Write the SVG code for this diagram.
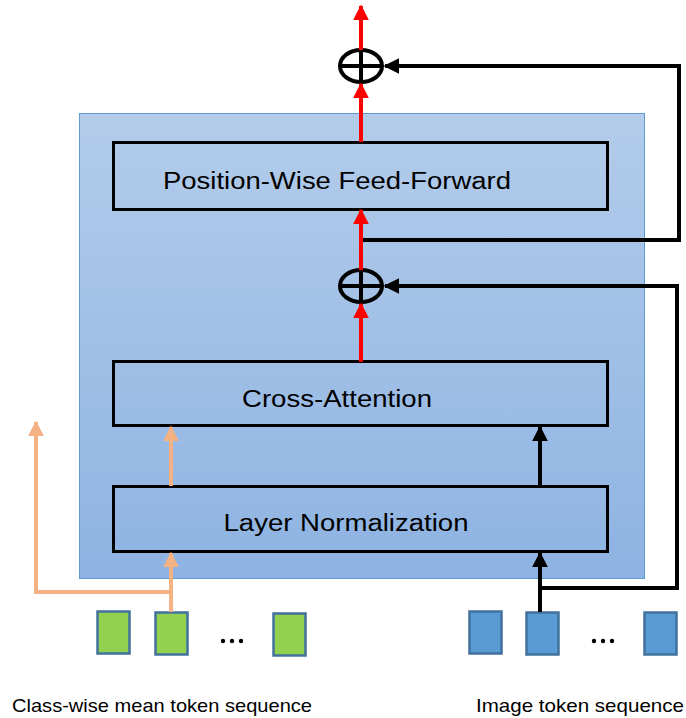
<svg xmlns="http://www.w3.org/2000/svg" width="686" height="718" viewBox="0 0 686 718">
  <defs>
    <linearGradient id="blockFill" x1="0" y1="0" x2="0" y2="1">
      <stop offset="0" stop-color="#B3CCEA"/>
      <stop offset="1" stop-color="#8EB3E2"/>
    </linearGradient>
    <marker id="headRed" viewBox="0 0 10 10" refX="9" refY="5" markerWidth="4" markerHeight="4" markerUnits="strokeWidth" orient="auto">
      <path d="M0,0 L10,5 L0,10 z" fill="#FF0000"/>
    </marker>
    <marker id="headBlack" viewBox="0 0 10 10" refX="9" refY="5" markerWidth="4" markerHeight="4" markerUnits="strokeWidth" orient="auto">
      <path d="M0,0 L10,5 L0,10 z" fill="#000000"/>
    </marker>
    <marker id="headPeach" viewBox="0 0 10 10" refX="9" refY="5" markerWidth="4" markerHeight="4" markerUnits="strokeWidth" orient="auto">
      <path d="M0,0 L10,5 L0,10 z" fill="#F4B183"/>
    </marker>
  </defs>
  <style>
    .label { font-family: "Liberation Sans", Arial, sans-serif; fill: #000; }
    .box { fill: none; stroke: #000; stroke-width: 3; }
    .red { fill: none; stroke: #FF0000; stroke-width: 4; marker-end: url(#headRed); }
    .blkArrow { fill: none; stroke: #000; stroke-width: 4; marker-end: url(#headBlack); }
    .blk { fill: none; stroke: #000; stroke-width: 4; }
    .peachArrow { fill: none; stroke: #F4B183; stroke-width: 4; marker-end: url(#headPeach); }
    .oplus { fill: none; stroke: #000; stroke-width: 4; }
    .tokG { fill: #92D050; stroke: #41719C; stroke-width: 2.5; }
    .tokB { fill: #5B9BD5; stroke: #41719C; stroke-width: 2.5; }
  </style>

  <!-- decoder block background -->
  <rect id="block" x="79.5" y="113.5" width="565" height="465" fill="url(#blockFill)" stroke="#5B9BD5" stroke-width="1"/>

  <g id="ffn">
    <rect class="box" x="113.5" y="142.5" width="494" height="67"/>
    <text class="label" x="337" y="189" font-size="23" text-anchor="middle" textLength="348" lengthAdjust="spacingAndGlyphs">Position-Wise Feed-Forward</text>
  </g>
  <g id="cross-attention">
    <rect class="box" x="113.5" y="361.5" width="494" height="64"/>
    <text class="label" x="337" y="407" font-size="23" text-anchor="middle" textLength="190" lengthAdjust="spacingAndGlyphs">Cross-Attention</text>
  </g>
  <g id="layer-norm">
    <rect class="box" x="113.5" y="486.5" width="494" height="65"/>
    <text class="label" x="346" y="531" font-size="23" text-anchor="middle" textLength="245" lengthAdjust="spacingAndGlyphs">Layer Normalization</text>
  </g>

  <g id="add-top">
    <ellipse class="oplus" cx="361" cy="66" rx="21" ry="16"/>
    <line class="oplus" x1="340" y1="66" x2="382" y2="66"/>
    <line class="oplus" x1="361" y1="50" x2="361" y2="82"/>
  </g>
  <g id="add-mid">
    <ellipse class="oplus" cx="361" cy="286" rx="21" ry="16"/>
    <line class="oplus" x1="340" y1="286" x2="382" y2="286"/>
    <line class="oplus" x1="361" y1="270" x2="361" y2="302"/>
  </g>

  <g id="tokens-class">
    <rect class="tokG" x="97.5" y="611.5" width="32" height="42"/>
    <rect class="tokG" x="155.5" y="612.5" width="32" height="42"/>
    <rect class="tokG" x="273.5" y="613.5" width="32" height="42"/>
    <circle cx="223" cy="641" r="2.2"/>
    <circle cx="232" cy="641" r="2.2"/>
    <circle cx="241" cy="641" r="2.2"/>
  </g>
  <g id="tokens-image">
    <rect class="tokB" x="469.5" y="611.5" width="32" height="42"/>
    <rect class="tokB" x="526.5" y="612.5" width="32" height="42"/>
    <rect class="tokB" x="644.5" y="612.5" width="32" height="42"/>
    <circle cx="594" cy="641" r="2.2"/>
    <circle cx="603" cy="641" r="2.2"/>
    <circle cx="612" cy="641" r="2.2"/>
  </g>

  <g id="connectors">
    <!-- main red path -->
    <line class="red" x1="361" y1="50" x2="361" y2="6"/>
    <line class="red" x1="361" y1="142" x2="361" y2="84"/>
    <line class="red" x1="361" y1="270" x2="361" y2="210"/>
    <line class="red" x1="361" y1="362" x2="361" y2="304"/>
    <!-- residual connections -->
    <polyline class="blkArrow" points="363,240 679,240 679,66 385,66"/>
    <polyline class="blkArrow" points="540,612 540,588 677,588 677,286 385,286"/>
    <!-- image tokens into the block -->
    <line class="blkArrow" x1="540" y1="590" x2="540" y2="553"/>
    <line class="blkArrow" x1="540" y1="486" x2="540" y2="427"/>
    <!-- class tokens -->
    <line class="peachArrow" x1="171" y1="612" x2="171" y2="553"/>
    <line class="peachArrow" x1="171" y1="486" x2="171" y2="427"/>
    <polyline class="peachArrow" points="171,592 36,592 36,422"/>
  </g>

  <text class="label" x="12" y="712" font-size="19" textLength="300" lengthAdjust="spacingAndGlyphs">Class-wise mean token sequence</text>
  <text class="label" x="476" y="712" font-size="19" textLength="208" lengthAdjust="spacingAndGlyphs">Image token sequence</text>
</svg>
